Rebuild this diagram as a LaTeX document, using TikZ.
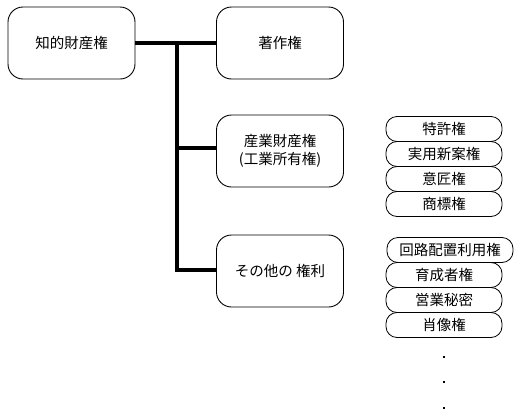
\documentclass[tikz,border=0pt]{standalone}
\usepackage{fontspec}
\setmainfont{Noto Sans CJK JP}
\begin{document}
\begin{tikzpicture}[x=1pt,y=-1pt,
  bigbox/.style={draw,line width=0.9pt,rounded corners=15pt,minimum width=127pt,minimum height=72pt,inner sep=0pt,align=center,font=\fontsize{14.5}{18}\selectfont},
  pill/.style={draw,line width=0.8pt,rounded corners=11pt,minimum width=116pt,minimum height=25pt,inner sep=0pt,font=\fontsize{14.5}{17}\selectfont},
  trunk/.style={line width=3.6pt,line cap=butt}]
\useasboundingbox (0,0) rectangle (520,418);
\fill[white] (0,0) rectangle (520,418);
% main boxes
\node[bigbox] (ip) at (71.5,43) {知的財産権};
\node[bigbox] (cr) at (280,43) {著作権};
\node[bigbox] (ind) at (280,151) {産業財産権\\(工業所有権)};
\node[bigbox] (oth) at (280,271) {その他の 権利};
% junctions
\coordinate (j1) at (177,43);
\coordinate (j2) at (177,148);
\coordinate (j3) at (177,270);
\coordinate (jend) at (177,272);
\draw[trunk] (ip.east) -- (cr.west);
\draw[trunk] (j1) -- (jend);
\draw[trunk] (j2) -- (j2 -| ind.west);
\draw[trunk] (j3) -- (j3 -| oth.west);
% industrial property rights
\node[pill] (p1) at (444,129) {特許権};
\node[pill] (p2) at (444,154) {実用新案権};
\node[pill] (p3) at (444,179) {意匠権};
\node[pill] (p4) at (444,204) {商標権};
% other rights
\node[pill,minimum width=126pt] (q1) at (450,250) {回路配置利用権};
\node[pill] (q2) at (444,275) {育成者権};
\node[pill] (q3) at (444,300) {営業秘密};
\node[pill] (q4) at (444,325) {肖像権};
% dots
\foreach \yy in {357,382,408}
  \fill (443,\yy-1) rectangle (445,\yy+1);
\end{tikzpicture}
\end{document}
